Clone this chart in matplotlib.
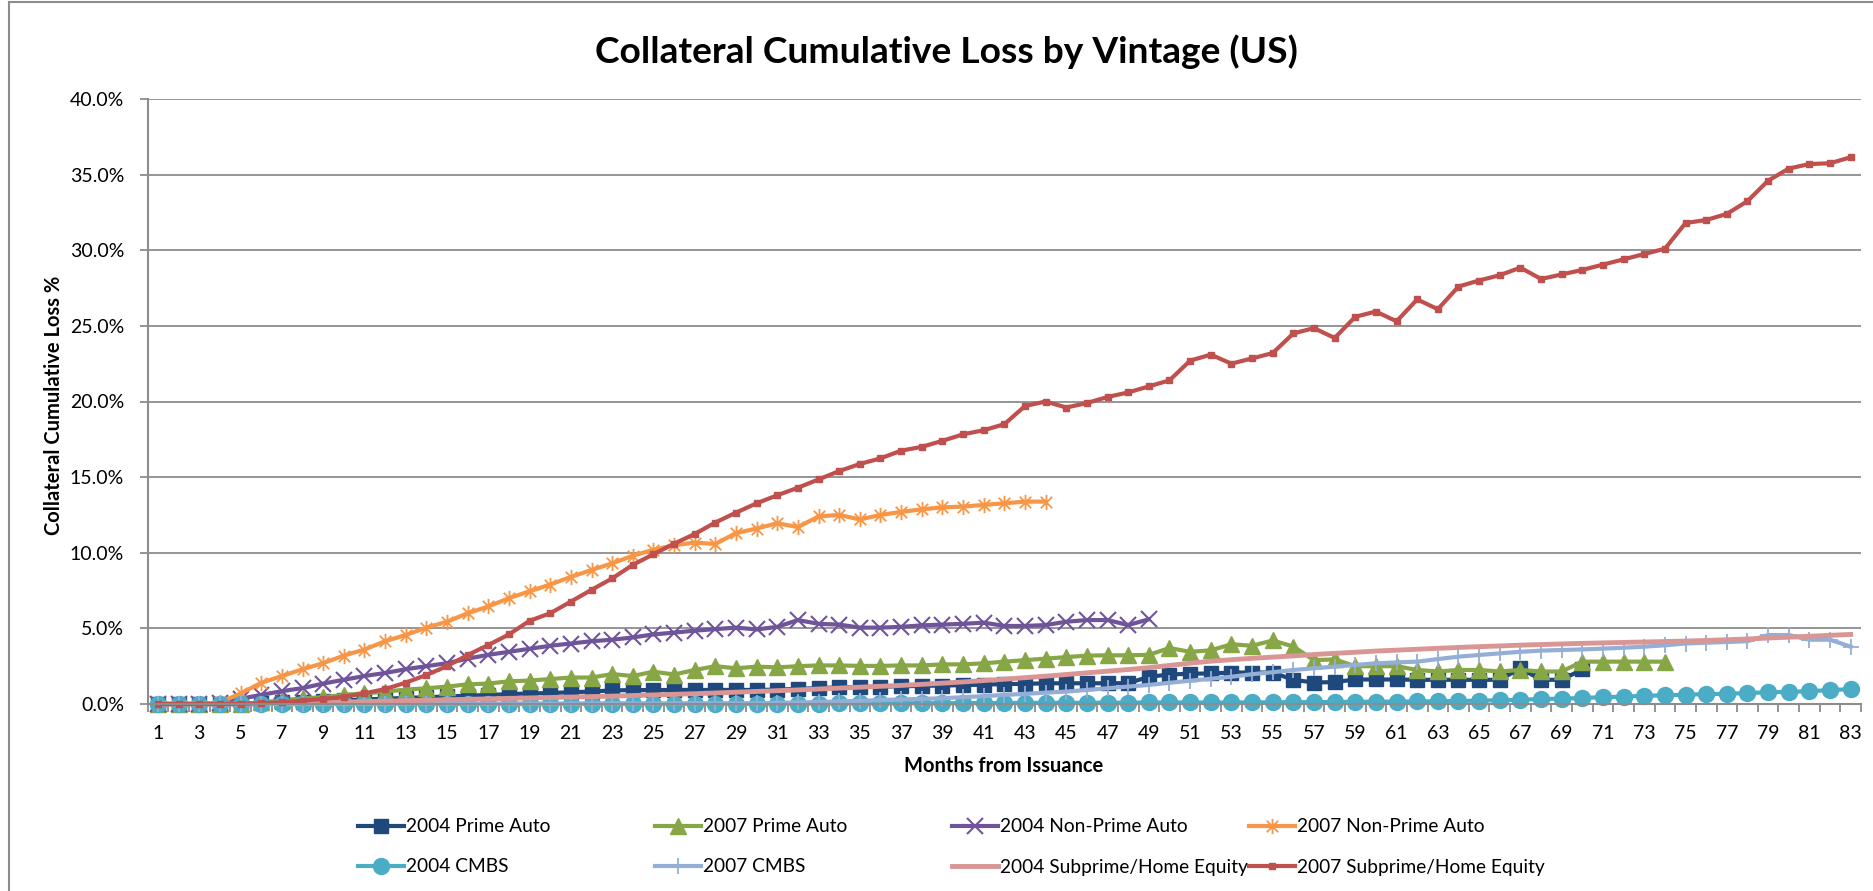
import numpy as np
import matplotlib
matplotlib.use('Agg')
import matplotlib.pyplot as plt
from matplotlib.path import Path
from matplotlib.lines import Line2D
from matplotlib.ticker import FuncFormatter

plt.rcParams['font.family'] = ['Lato', 'DejaVu Sans']

# months from issuance (category axis)
months = list(range(1, 84))
tick_months = list(range(1, 84, 2))

# cumulative loss, in percent
prime_auto_2004 = [0, 0, 0, 0, 0, 0.05, 0.1, 0.15, 0.2, 0.25,
                   0.3, 0.35, 0.4, 0.45, 0.5, 0.55, 0.6, 0.65, 0.7, 0.72,
                   0.78, 0.82, 0.9, 0.92, 0.92, 0.93, 0.93, 0.93, 0.93, 0.93,
                   0.95, 1.0, 1.05, 1.1, 1.12, 1.15, 1.17, 1.2, 1.22, 1.25,
                   1.28, 1.32, 1.33, 1.37, 1.37, 1.37, 1.37, 1.38, 1.8, 1.95,
                   2.0, 2.02, 2.08, 2.08, 2.08, 1.6, 1.42, 1.45, 1.62, 1.62,
                   1.62, 1.6, 1.6, 1.6, 1.6, 1.6, 2.36, 1.6, 1.6, 2.29]
prime_auto_2007 = [0, 0, 0, 0, 0, 0.1, 0.25, 0.37, 0.45, 0.6,
                   0.7, 0.82, 0.95, 1.04, 1.15, 1.3, 1.35, 1.5, 1.55, 1.65,
                   1.75, 1.75, 1.98, 1.85, 2.14, 1.95, 2.25, 2.5, 2.36, 2.47,
                   2.42, 2.5, 2.55, 2.55, 2.52, 2.52, 2.55, 2.55, 2.62, 2.62,
                   2.69, 2.8, 2.9, 3.0, 3.1, 3.2, 3.22, 3.22, 3.25, 3.7,
                   3.45, 3.55, 3.95, 3.85, 4.2, 3.8, 2.9, 2.95, 2.5, 2.5,
                   2.5, 2.25, 2.15, 2.25, 2.25, 2.15, 2.25, 2.15, 2.15, 2.8,
                   2.8, 2.8, 2.8, 2.8]
nonprime_auto_2004 = [0, 0, 0, 0.05, 0.35, 0.6, 0.85, 1.05, 1.35, 1.6,
                      1.85, 2.05, 2.3, 2.5, 2.7, 3.0, 3.25, 3.45, 3.65, 3.85,
                      4.0, 4.15, 4.25, 4.4, 4.6, 4.72, 4.85, 4.95, 5.05, 4.93,
                      5.1, 5.55, 5.3, 5.25, 5.05, 5.05, 5.1, 5.2, 5.25, 5.3,
                      5.38, 5.16, 5.16, 5.22, 5.44, 5.55, 5.55, 5.22, 5.6]
nonprime_auto_2007 = [0, 0, 0, 0.1, 0.7, 1.4, 1.85, 2.3, 2.7, 3.2,
                      3.6, 4.15, 4.56, 5.05, 5.44, 6.0, 6.45, 7.0, 7.45, 7.9,
                      8.4, 8.86, 9.3, 9.8, 10.2, 10.5, 10.67, 10.58, 11.3, 11.6,
                      11.95, 11.7, 12.4, 12.5, 12.2, 12.5, 12.7, 12.87, 13.0, 13.05,
                      13.16, 13.27, 13.38, 13.38]
cmbs_2004 = [0, 0, 0, 0, 0, 0, 0, 0, 0, 0,
             0, 0, 0, 0, 0, 0, 0, 0, 0, 0,
             0.01, 0.01, 0.01, 0.01, 0.01, 0.01, 0.01, 0.01, 0.01, 0.01,
             0.03, 0.03, 0.03, 0.04, 0.04, 0.04, 0.05, 0.05, 0.05, 0.06,
             0.06, 0.07, 0.07, 0.08, 0.08, 0.08, 0.09, 0.09, 0.1, 0.1,
             0.1, 0.1, 0.1, 0.11, 0.11, 0.12, 0.12, 0.13, 0.15, 0.15,
             0.16, 0.17, 0.18, 0.2, 0.22, 0.25, 0.28, 0.33, 0.35, 0.4,
             0.45, 0.48, 0.55, 0.57, 0.62, 0.65, 0.68, 0.72, 0.78, 0.8,
             0.85, 0.92, 0.98]
cmbs_2007 = [0, 0, 0, 0, 0, 0, 0, 0, 0, 0,
             0.01, 0.01, 0.01, 0.02, 0.02, 0.02, 0.02, 0.03, 0.03, 0.03,
             0.03, 0.03, 0.04, 0.04, 0.04, 0.04, 0.05, 0.05, 0.05, 0.05,
             0.08, 0.1, 0.13, 0.17, 0.21, 0.26, 0.3, 0.34, 0.38, 0.45,
             0.52, 0.6, 0.67, 0.75, 0.82, 0.93, 1.04, 1.15, 1.26, 1.4,
             1.54, 1.67, 1.8, 1.97, 2.1, 2.25, 2.36, 2.47, 2.58, 2.69,
             2.75, 2.8, 2.97, 3.13, 3.24, 3.35, 3.45, 3.53, 3.57, 3.61,
             3.66, 3.72, 3.79, 3.88, 4.0, 4.05, 4.1, 4.15, 4.56, 4.56,
             4.25, 4.25, 3.79]
subprime_2004 = [0, 0, 0, 0, 0, 0.02, 0.05, 0.08, 0.1, 0.13,
                 0.16, 0.19, 0.22, 0.25, 0.28, 0.31, 0.34, 0.37, 0.4, 0.43,
                 0.46, 0.49, 0.52, 0.56, 0.6, 0.64, 0.68, 0.73, 0.78, 0.83,
                 0.88, 0.93, 0.99, 1.05, 1.11, 1.17, 1.23, 1.3, 1.38, 1.46,
                 1.55, 1.64, 1.74, 1.84, 1.95, 2.06, 2.17, 2.28, 2.4, 2.55,
                 2.7, 2.83, 2.93, 3.02, 3.1, 3.18, 3.27, 3.35, 3.42, 3.5,
                 3.56, 3.62, 3.68, 3.74, 3.79, 3.84, 3.89, 3.93, 3.97, 4.01,
                 4.04, 4.07, 4.1, 4.13, 4.16, 4.2, 4.25, 4.3, 4.36, 4.42,
                 4.48, 4.54, 4.6]
subprime_2007 = [0, 0, 0, 0, 0.02, 0.05, 0.1, 0.22, 0.33, 0.48,
                 0.7, 0.99, 1.41, 1.92, 2.5, 3.24, 3.9, 4.6, 5.5, 6.0,
                 6.77, 7.55, 8.3, 9.2, 9.9, 10.6, 11.24, 12.0, 12.65, 13.27,
                 13.8, 14.3, 14.85, 15.4, 15.87, 16.24, 16.75, 17.0, 17.4, 17.83,
                 18.1, 18.5, 19.7, 20.0, 19.6, 19.9, 20.3, 20.6, 21.0, 21.4,
                 22.7, 23.1, 22.5, 22.85, 23.2, 24.5, 24.85, 24.2, 25.6, 25.95,
                 25.3, 26.75, 26.1, 27.6, 28.0, 28.35, 28.85, 28.1, 28.4, 28.7,
                 29.05, 29.4, 29.75, 30.1, 31.8, 32.0, 32.4, 33.25, 34.6, 35.4,
                 35.7, 35.75, 36.15]

series_names = ['2004 Prime Auto', '2007 Prime Auto', '2004 Non-Prime Auto', '2007 Non-Prime Auto',
                '2004 CMBS', '2007 CMBS', '2004 Subprime/Home Equity', '2007 Subprime/Home Equity']
series_values = [prime_auto_2004, prime_auto_2007, nonprime_auto_2004, nonprime_auto_2007,
                 cmbs_2004, cmbs_2007, subprime_2004, subprime_2007]

# excel style star: X plus a vertical bar
star = Path([(0, -1), (0, 1), (-0.75, -0.75), (0.75, 0.75), (-0.75, 0.75), (0.75, -0.75)],
            [Path.MOVETO, Path.LINETO] * 3)

styles = [
    dict(color='#1F497D', marker='s', ms=10, lw=3),
    dict(color='#87A646', marker='^', ms=11, lw=3),
    dict(color='#6F5499', marker='x', ms=11, mew=1.5, lw=3),
    dict(color='#F79646', marker=star, ms=11, mew=1.3, mfc='none', lw=3),
    dict(color='#4BACC6', marker='o', ms=11.5, lw=3),
    dict(color='#94AED6', marker='+', ms=12, mew=1.3, lw=3),
    dict(color='#D99694', marker=None, lw=3.5),
    dict(color='#C0504D', marker='s', ms=5, lw=3),
]

grey = '#8C8C8C'

fig = plt.figure(figsize=(18.74, 8.91), dpi=100)
ax = fig.add_axes([147.7 / 1874, 187 / 891, (1861 - 147.7) / 1874, 605 / 891])

handles = []
for name, vals, st in zip(series_names, series_values, styles):
    x = months[:len(vals)]
    h, = ax.plot(x, vals, label=name, clip_on=False, solid_joinstyle='round', **st)
    handles.append(h)

ax.set_xlim(0.5, 83.5)
ax.set_ylim(0, 40)
ax.set_yticks(np.arange(0, 41, 5))
ax.yaxis.set_major_formatter(FuncFormatter(lambda v, p: f'{v:.1f}%'))
ax.set_xticks(tick_months)
ax.set_xticklabels([str(m) for m in tick_months])
ax.set_xticks(np.arange(0.5, 84, 1), minor=True)

ax.yaxis.grid(True, color=grey, lw=1.3)
ax.set_axisbelow(True)
for s in ['top', 'right']:
    ax.spines[s].set_visible(False)
for s in ['left', 'bottom']:
    ax.spines[s].set_color(grey)
    ax.spines[s].set_linewidth(1.5)

ax.tick_params(axis='y', length=6, width=1.3, color=grey, pad=11, labelsize=14)
ax.tick_params(axis='x', which='major', length=0, pad=15, labelsize=14)
ax.tick_params(axis='x', which='minor', length=6, width=1.3, color=grey)

fig.text(946 / 1874, 1 - 52 / 891, 'Collateral Cumulative Loss by Vintage (US)',
         ha='center', va='center', fontsize=26.7, weight='bold')
fig.text(54 / 1874, 1 - 405 / 891, 'Collateral Cumulative Loss %', rotation=90,
         ha='center', va='center', fontsize=14.5, weight='bold')
fig.text(1004 / 1874, 1 - 766 / 891, 'Months from Issuance',
         ha='center', va='center', fontsize=14.5, weight='bold')

# legend laid out like excel: 4 equal columns, 2 rows
col_x = [358, 655, 952, 1249]
row_y = [827, 867]
for i, h in enumerate(handles):
    r, c = divmod(i, 4)
    fig.legend(handles=[h], labels=[series_names[i]], loc='center left',
               bbox_to_anchor=(col_x[c] / 1874, 1 - row_y[r] / 891),
               frameon=False, fontsize=13.8, borderpad=0, borderaxespad=0,
               handlelength=2.4, handletextpad=0.08)

# chart area border
fig.add_artist(Line2D([9 / 1874, 9 / 1874], [0, 1 - 2 / 891], transform=fig.transFigure,
                      color=grey, lw=1.5))
fig.add_artist(Line2D([9 / 1874, 1], [1 - 2 / 891, 1 - 2 / 891], transform=fig.transFigure,
                      color=grey, lw=1.5))

fig.savefig('out.png', dpi=100)
